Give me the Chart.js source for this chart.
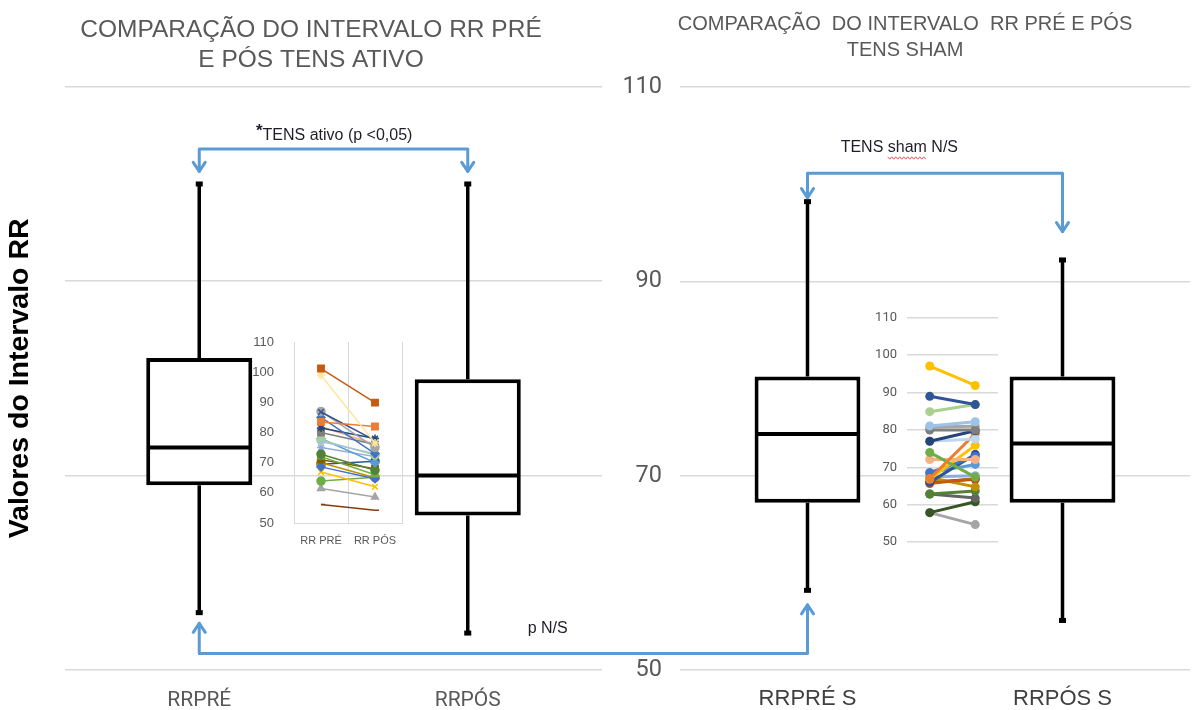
<!DOCTYPE html>
<html>
<head>
<meta charset="utf-8">
<script src="https://cdn.jsdelivr.net/npm/chart.js@4.4.1/dist/chart.umd.min.js"></script>
<style>
  html, body { margin: 0; padding: 0; background: #fff; }
  #stage { position: relative; width: 1193px; height: 710px; overflow: hidden; background: #fff; }
  #stage canvas { position: absolute; }
</style>
</head>
<body>
<div id="stage">
  <canvas id="mainActive" width="622" height="710" style="left:0;top:0;width:622px;height:710px"></canvas>
  <canvas id="mainSham" width="593" height="710" style="left:600px;top:0;width:593px;height:710px"></canvas>
  <canvas id="pairsActive" width="175" height="235" style="left:240px;top:320px;width:175px;height:235px"></canvas>
  <canvas id="pairsSham" width="145" height="260" style="left:860px;top:300px;width:145px;height:260px"></canvas>
  <canvas id="notes" width="1193" height="710" style="left:0;top:0;width:1193px;height:710px"></canvas>
</div>
<script>
// ---- Box plot summaries (RR interval) ----
const activeLabels = ['RRPRÉ', 'RRPÓS'];
const activeMin    = [55.9, 53.8];
const activeQ1     = [69.0, 65.9];
const activeMedian = [72.9, 70.0];
const activeQ3     = [82.1, 79.9];
const activeMax    = [100.0, 100.0];

const shamLabels = ['RRPRÉ S', 'RRPÓS S'];
const shamMin    = [58.2, 55.1];
const shamQ1     = [67.2, 67.2];
const shamMedian = [74.3, 73.3];
const shamQ3     = [80.2, 80.2];
const shamMax    = [98.2, 92.2];

const mainTicks = [50, 70, 90, 110];

// ---- Individual subjects, pre vs post ----
const activePairLabels = ['RR PRÉ', 'RR PÓS'];
const activePre  = [101.2, 99.0, 83.5, 86.8, 87.0, 85.0, 81.5, 80.0, 82.0, 77.0, 77.5, 78.0, 72.8, 72.0, 71.0, 68.6, 66.9, 70.0, 63.9, 61.4, 56.1, 69.5, 75.0];
const activePost = [89.9, 76.5, 82.0, 77.4, 75.0, 73.0, 78.0, 76.0, 76.0, 73.0, 72.5, 70.0, 67.5, 66.0, 68.0, 64.7, 62.0, 65.0, 65.2, 58.6, 54.2, 70.5, 72.0];

const shamPairLabels = ['RR PRÉ S', 'RR PÓS S'];
const shamPre  = [97.1, 89.0, 84.9, 81.1, 80.0, 77.0, 77.0, 67.0, 74.0, 72.1, 66.9, 68.6, 66.0, 68.6, 67.5, 65.7, 67.3, 62.9, 62.9, 57.9, 57.9, 66.0, 80.8];
const shamPost = [91.9, 86.8, 86.8, 82.2, 80.0, 79.8, 77.6, 79.0, 67.4, 72.1, 75.9, 72.9, 73.5, 70.8, 67.8, 67.0, 64.8, 63.7, 61.8, 60.8, 54.7, 66.8, 81.0];

// ---- Styling ----
const activeColors  = ['#C55A11', '#FFE699', '#ED7D31', '#2F5597', '#A5A5A5', '#4472C4', '#264478', '#7F7F7F', '#F4B183', '#9DC3E6', '#A9D18E', '#5B9BD5', '#548235', '#70AD47', '#7F6000', '#4472C4', '#FFC000', '#BF9000', '#70AD47', '#A5A5A5', '#843C0C', '#2F5597', '#8FAADC'];
const activeMarkers = ['rect', 'star', 'rect', 'crossRot', 'circle', 'rectRot', 'star', 'rect', 'triangle', 'crossRot', 'circle', 'rectRot', 'circle', 'triangle', 'rect', 'rectRot', 'crossRot', 'circle', 'circle', 'triangle', 'dash', 'circle', 'star'];
const shamColors = ['#FFC000', '#2F5597', '#A9D18E', '#9DC3E6', '#7F7F7F', '#264478', '#BDD7EE', '#ED7D31', '#70AD47', '#F4B183', '#FFC000', '#4472C4', '#2F5597', '#5B9BD5', '#8FAADC', '#C55A11', '#BF9000', '#548235', '#636363', '#375623', '#A5A5A5', '#843C0C', '#A5A5A5'];

const ARIAL = "'Liberation Sans', Arial, sans-serif";
const NARROW = "'Liberation Sans Narrow', 'Liberation Sans', Arial, sans-serif";
const ROBOTO = "Roboto, 'Liberation Sans', sans-serif";
const GRID = '#d9d9d9';

// Whiskers, caps and median line for each floating box.
const boxWhiskers = {
  id: 'boxWhiskers',
  afterDatasetsDraw(chart, args, opts) {
    const meta = chart.getDatasetMeta(0);
    const y = chart.scales.y;
    const ctx = chart.ctx;
    ctx.save();
    ctx.strokeStyle = '#000';
    ctx.fillStyle = '#000';
    meta.data.forEach((bar, i) => {
      const half = bar.width / 2;
      const pLo = y.getPixelForValue(opts.min[i]);
      const pQ1 = y.getPixelForValue(opts.q1[i]);
      const pMed = y.getPixelForValue(opts.median[i]);
      const pQ3 = y.getPixelForValue(opts.q3[i]);
      const pHi = y.getPixelForValue(opts.max[i]);
      ctx.lineWidth = 3.5;
      ctx.beginPath();
      ctx.moveTo(bar.x, pQ3); ctx.lineTo(bar.x, pHi);
      ctx.moveTo(bar.x, pQ1); ctx.lineTo(bar.x, pLo);
      ctx.stroke();
      ctx.fillRect(bar.x - 3.5, pHi - 2.5, 7, 5);
      ctx.fillRect(bar.x - 3.5, pLo - 2.5, 7, 5);
      ctx.lineWidth = 4;
      ctx.beginPath();
      ctx.moveTo(bar.x - half + 1, pMed); ctx.lineTo(bar.x + half - 1, pMed);
      ctx.stroke();
    });
    ctx.restore();
  }
};

function boxDataset(q1, q3, share) {
  return {
    data: q1.map((v, i) => [v, q3[i]]),
    backgroundColor: '#ffffff',
    borderColor: '#000000',
    borderWidth: 4,
    borderSkipped: false,
    barPercentage: share,
    categoryPercentage: 1
  };
}

const common = { responsive: false, animation: false, devicePixelRatio: 1, events: [] };

const mainActive = new Chart(document.getElementById('mainActive'), {
  type: 'bar',
  data: { labels: activeLabels, datasets: [boxDataset(activeQ1, activeQ3, 0.395)] },
  options: Object.assign({}, common, {
    layout: { padding: { left: 20, right: 20, top: 0, bottom: 0 } },
    plugins: {
      legend: { display: false },
      tooltip: { enabled: false },
      title: {
        display: true,
        text: ['COMPARAÇÃO DO INTERVALO RR PRÉ', 'E PÓS TENS ATIVO'],
        color: '#595959',
        font: { family: ARIAL, size: 24.5, weight: 'normal', lineHeight: 1.22 },
        padding: { top: 15, bottom: 12 }
      },
      boxWhiskers: { min: activeMin, q1: activeQ1, median: activeMedian, q3: activeQ3, max: activeMax }
    },
    scales: {
      x: {
        grid: { display: false },
        border: { display: false },
        ticks: { color: '#595959', font: { family: ROBOTO, size: 21 }, padding: 10 },
        afterFit(s) { s.height = 40; }
      },
      y: {
        min: 50, max: 110,
        afterBuildTicks(s) { s.ticks = mainTicks.map(v => ({ value: v })); },
        ticks: { display: false },
        grid: { color: GRID, lineWidth: 1.5, drawTicks: false },
        border: { display: false },
        title: {
          display: true,
          text: 'Valores do Intervalo RR',
          color: '#000',
          font: { family: ARIAL, size: 28.5, weight: 'bold' },
          padding: { top: -17, bottom: 0 }
        },
        afterFit(s) { s.width = 45; }
      }
    }
  }),
  plugins: [boxWhiskers]
});

const mainSham = new Chart(document.getElementById('mainSham'), {
  type: 'bar',
  data: { labels: shamLabels, datasets: [boxDataset(shamQ1, shamQ3, 0.415)] },
  options: Object.assign({}, common, {
    layout: { padding: { left: 20, right: 3, top: 0, bottom: 0 } },
    plugins: {
      legend: { display: false },
      tooltip: { enabled: false },
      title: {
        display: true,
        text: ['COMPARAÇÃO  DO INTERVALO  RR PRÉ E PÓS', 'TENS SHAM'],
        color: '#595959',
        font: { family: ARIAL, size: 20, weight: 'normal', lineHeight: 1.3 },
        padding: { top: 11, bottom: 24 }
      },
      boxWhiskers: { min: shamMin, q1: shamQ1, median: shamMedian, q3: shamQ3, max: shamMax }
    },
    scales: {
      x: {
        grid: { display: false },
        border: { display: false },
        ticks: { color: '#404040', font: { family: ARIAL, size: 22 }, padding: 8 },
        afterFit(s) { s.height = 40; }
      },
      y: {
        min: 50, max: 110,
        afterBuildTicks(s) { s.ticks = mainTicks.map(v => ({ value: v })); },
        ticks: { color: '#595959', font: { family: ROBOTO, size: 23.5 }, padding: 18 },
        grid: { color: GRID, lineWidth: 1.5, drawTicks: false },
        border: { display: false },
        afterFit(s) { s.width = 60; }
      }
    }
  }),
  plugins: [boxWhiskers]
});

new Chart(document.getElementById('pairsActive'), {
  type: 'line',
  data: {
    labels: activePairLabels,
    datasets: activePre.map((v, i) => ({
      data: [v, activePost[i]],
      borderColor: activeColors[i],
      backgroundColor: activeColors[i],
      pointBorderColor: activeColors[i],
      pointStyle: activeMarkers[i],
      pointRadius: activeMarkers[i] === 'rect' ? 4.5 : 4,
      pointBorderWidth: 1.5,
      borderWidth: 1.5
    }))
  },
  options: Object.assign({}, common, {
    layout: { padding: { left: 0, right: 13, top: 22, bottom: 0 } },
    plugins: { legend: { display: false }, tooltip: { enabled: false } },
    scales: {
      x: {
        offset: true,
        grid: { offset: true, color: GRID, drawTicks: false },
        border: { display: true, color: GRID },
        ticks: { color: '#595959', font: { family: ARIAL, size: 11 }, padding: 11 },
        afterFit(s) { s.height = 32; }
      },
      y: {
        min: 50, max: 110,
        ticks: { stepSize: 10, color: '#595959', font: { family: NARROW, size: 13 }, padding: 12 },
        grid: { display: false },
        border: { display: false },
        afterFit(s) { s.width = 54; }
      }
    }
  })
});

new Chart(document.getElementById('pairsSham'), {
  type: 'line',
  data: {
    labels: shamPairLabels,
    datasets: shamPre.map((v, i) => ({
      data: [v, shamPost[i]],
      borderColor: shamColors[i],
      backgroundColor: shamColors[i],
      pointRadius: 4.5,
      pointBorderWidth: 0,
      borderWidth: 3
    }))
  },
  options: Object.assign({}, common, {
    layout: { padding: { left: 0, right: 7, top: 16, bottom: 0 } },
    plugins: { legend: { display: false }, tooltip: { enabled: false } },
    scales: {
      x: {
        offset: true,
        grid: { display: false },
        border: { display: false },
        ticks: { display: false },
        afterFit(s) { s.height = 11; }
      },
      y: {
        min: 50, max: 110,
        ticks: { stepSize: 10, color: '#595959', font: { family: ROBOTO, size: 13 }, padding: 10 },
        grid: { color: GRID, lineWidth: 1.5, drawTicks: false },
        border: { display: false },
        afterFit(s) { s.width = 47; }
      }
    }
  })
});

// ---- Comparison brackets and their labels ----
const activeOffset = 0, shamOffset = 600;
const bracketActive = { level: 103.6, tip: 101.3, text: 105.0 };
const bracketSham = { level: 101.1, tipPre: 98.6, tipPost: 95.1, text: 103.7 };
const bracketPre = { level: 51.7, tipActive: 54.8, tipSham: 56.7, text: 54.3 };

function drawNotes() {
  const ctx = document.getElementById('notes').getContext('2d');
  const yv = v => mainActive.scales.y.getPixelForValue(v);
  const xa = i => mainActive.scales.x.getPixelForValue(i) + activeOffset;
  const xs = i => mainSham.scales.x.getPixelForValue(i) + shamOffset;

  ctx.strokeStyle = '#5B9BD5';
  ctx.lineWidth = 3;
  ctx.lineJoin = 'round';
  ctx.lineCap = 'round';

  function path(pts) {
    ctx.beginPath();
    ctx.moveTo(pts[0][0], pts[0][1]);
    for (let k = 1; k < pts.length; k++) ctx.lineTo(pts[k][0], pts[k][1]);
    ctx.stroke();
  }
  function head(x, y, dir) { // dir: 1 = pointing down, -1 = pointing up
    path([[x - 6, y - dir * 9], [x, y], [x + 6, y - dir * 9]]);
  }

  // TENS ativo: pre vs post
  path([[xa(0), yv(bracketActive.tip)], [xa(0), yv(bracketActive.level)], [xa(1), yv(bracketActive.level)], [xa(1), yv(bracketActive.tip)]]);
  head(xa(0), yv(bracketActive.tip), 1);
  head(xa(1), yv(bracketActive.tip), 1);

  // TENS sham: pre vs post
  path([[xs(0), yv(bracketSham.tipPre)], [xs(0), yv(bracketSham.level)], [xs(1), yv(bracketSham.level)], [xs(1), yv(bracketSham.tipPost)]]);
  head(xs(0), yv(bracketSham.tipPre), 1);
  head(xs(1), yv(bracketSham.tipPost), 1);

  // Baseline comparison between groups
  path([[xa(0), yv(bracketPre.tipActive)], [xa(0), yv(bracketPre.level)], [xs(0), yv(bracketPre.level)], [xs(0), yv(bracketPre.tipSham)]]);
  head(xa(0), yv(bracketPre.tipActive), -1);
  head(xs(0), yv(bracketPre.tipSham), -1);

  // Labels
  ctx.fillStyle = '#1e1e28';
  ctx.textBaseline = 'middle';
  ctx.font = '16px ' + NARROW;
  const t1 = 'TENS ativo (p <0,05)';
  const w1 = ctx.measureText(t1).width;
  const cx1 = (xa(0) + xa(1)) / 2 + 4;
  ctx.textAlign = 'left';
  ctx.fillText(t1, cx1 - w1 / 2, yv(bracketActive.text));
  ctx.font = 'bold 17px ' + NARROW;
  ctx.textAlign = 'right';
  ctx.fillText('*', cx1 - w1 / 2, yv(bracketActive.text) - 4);

  ctx.font = '16px ' + NARROW;
  ctx.textAlign = 'left';
  const sx = xs(0) + 0.13 * (xs(1) - xs(0));
  const sy = yv(bracketSham.text);
  ctx.fillText('TENS sham N/S', sx, sy);
  // spell-check squiggle under "sham"
  const pre = ctx.measureText('TENS ').width;
  const wSham = ctx.measureText('sham').width;
  ctx.strokeStyle = '#e05a5a';
  ctx.lineWidth = 1;
  ctx.lineCap = 'butt';
  ctx.beginPath();
  for (let x = 0, k = 0; x <= wSham; x += 2, k++) {
    const px = sx + pre + x, py = sy + 10 + (k % 2 ? 1.2 : -1.2);
    if (k === 0) ctx.moveTo(px, py); else ctx.lineTo(px, py);
  }
  ctx.stroke();

  ctx.fillText('p N/S', xa(0) + 0.54 * (xs(0) - xa(0)), yv(bracketPre.text));
}
drawNotes();
</script>
</body>
</html>
